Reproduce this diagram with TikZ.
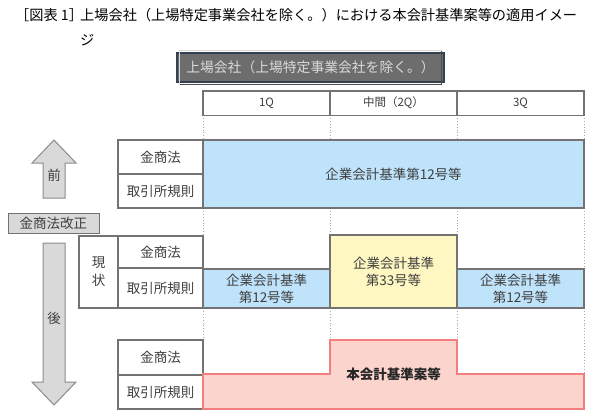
\documentclass[tikz,border=0pt]{standalone}
\usepackage{fontspec}
\setmainfont{Noto Sans CJK JP}
\definecolor{lineg}{HTML}{737373}
\definecolor{txt}{HTML}{3F3F3F}
\definecolor{bluef}{HTML}{BFE3FA}
\definecolor{yelf}{HTML}{FFF7C2}
\definecolor{pinkf}{HTML}{FBD5CD}
\definecolor{pinkl}{HTML}{F27E7E}
\definecolor{arrf}{HTML}{D9D9D9}
\definecolor{arrl}{HTML}{8C8C8C}
\definecolor{dotg}{HTML}{A8A8A8}
\definecolor{topf}{HTML}{6D6D6D}
\definecolor{topl}{HTML}{34414F}
\definecolor{topt}{HTML}{DADADA}
\begin{document}
\begin{tikzpicture}[x=1pt,y=-1pt,
  base/.style={inner sep=0pt, outer sep=0pt, anchor=north west, text=txt,
    font=\fontsize{13.5}{17}\selectfont, align=center},
  cell/.style={base, draw=lineg, line width=1.2pt, fill=white},
  bluebox/.style={cell, fill=bluef},
  yelbox/.style={cell, fill=yelf},
  hcell/.style={cell, font=\fontsize{11.5}{14}\selectfont},
  guide/.style={draw=dotg, dotted, line width=0.9pt},
  bigarrow/.style={fill=arrf, draw=arrl, line width=1pt, line join=miter},
  lbl/.style={inner sep=0pt, text=txt, font=\fontsize{13.5}{17}\selectfont}
]
\useasboundingbox (0,0) rectangle (600,416);

% title
\node[inner sep=0pt, anchor=west, font=\fontsize{14.2}{17}\selectfont] (ttl0) at (15,15) {［図表 1］};
\node[inner sep=0pt, anchor=west, font=\fontsize{14.2}{17}\selectfont] (ttl1) at (80,15) {上場会社（上場特定事業会社を除く。）における本会計基準案等の適用イメー};
\node[inner sep=0pt, anchor=west, font=\fontsize{14.2}{17}\selectfont] (ttl2) at (80,40) {ジ};

% top dark box
\node[base, fill=topf, draw=topl, line width=1.6pt, minimum width=267pt, minimum height=29pt, text=topt, font=\fontsize{13.8}{17}\selectfont] (topbox) at (177,53) {上場会社（上場特定事業会社を除く。）};
\draw[draw=white!70!gray, line width=0.6pt] ([shift={(2.5pt,-2.5pt)}]topbox.south west) -- ([shift={(2.5pt,2.5pt)}]topbox.north west) -- ([shift={(-2.5pt,2.5pt)}]topbox.north east);
\draw[draw=black!70, line width=0.6pt] ([shift={(-2.5pt,2.5pt)}]topbox.north east) -- ([shift={(-2.5pt,-2.5pt)}]topbox.south east) -- ([shift={(2.5pt,-2.5pt)}]topbox.south west);

% guides (behind)
\foreach \gx in {203,330,457,584} {\draw[guide] (\gx,115) -- (\gx,140);}
\draw[guide] (203,208) -- (203,236);
\draw[guide] (330,208) -- (330,235);
\draw[guide] (457,208) -- (457,235);
\draw[guide] (584,208) -- (584,269);
\draw[guide] (203,308) -- (203,340);
\draw[guide] (330,308) -- (330,340);
\draw[guide] (457,308) -- (457,340);
\draw[guide] (584,308) -- (584,374);

% header
\node[hcell, minimum width=127pt, minimum height=24.5pt] (h1) at (203,91) {1Q};
\node[hcell, minimum width=127pt, minimum height=24.5pt] (h2) at (330,91) {\raisebox{3pt}{中間（2Q）}};
\node[hcell, minimum width=127pt, minimum height=24.5pt] (h3) at (457,91) {3Q};

% before
\node[cell, minimum width=85pt, minimum height=34pt] (k1) at (118,140) {金商法};
\node[cell, minimum width=85pt, minimum height=34pt] (t1) at (118,174) {取引所規則};
\node[bluebox, minimum width=381pt, minimum height=68pt] (b1) at (203,140) {企業会計基準第12号等};

% current
\node[cell, minimum width=39pt, minimum height=72pt] (gen) at (79,236) {};
\node[lbl] (gen1) at (98.5,263) {現};
\node[lbl] (gen2) at (98.5,280) {状};
\node[cell, minimum width=85pt, minimum height=32pt] (k2) at (118,236) {金商法};
\node[cell, minimum width=85pt, minimum height=40pt] (t2) at (118,268) {取引所規則};
\node[bluebox, minimum width=127pt, minimum height=39pt] (b2) at (203,269) {企業会計基準\\第12号等};
\node[yelbox, minimum width=127pt, minimum height=73pt] (y2) at (330,235) {企業会計基準\\第33号等};
\node[bluebox, minimum width=127pt, minimum height=39pt] (b3) at (457,269) {企業会計基準\\第12号等};

% after
\node[cell, minimum width=85pt, minimum height=35pt] (k3) at (118,340) {金商法};
\node[cell, minimum width=85pt, minimum height=34pt] (t3) at (118,375) {取引所規則};
\fill[pinkf, draw=pinkl, line width=1.2pt] (203,374) -- (330,374) -- (330,340) -- (457,340) -- (457,374) -- (584,374) -- (584,409) -- (203,409) -- cycle;
\node[lbl, text=black!85, font=\bfseries\fontsize{13.5}{17}\selectfont] (new) at (393.5,374) {本会計基準案等};

% arrows
\draw[bigarrow] (54,140) -- (76,163) -- (65,163) -- (65,198) -- (43,198) -- (43,163) -- (32,163) -- cycle;
\node[lbl] (mae) at (54,175) {前};
\draw[bigarrow] (43,243) -- (65,243) -- (65,382) -- (76,382) -- (54,405) -- (32,382) -- (43,382) -- cycle;
\node[lbl] (ato) at (54,318) {後};

% amendment box
\node[cell, fill=arrf, line width=1pt, minimum width=91pt, minimum height=20pt] (kai) at (8,213) {金商法改正};
\end{tikzpicture}
\end{document}
